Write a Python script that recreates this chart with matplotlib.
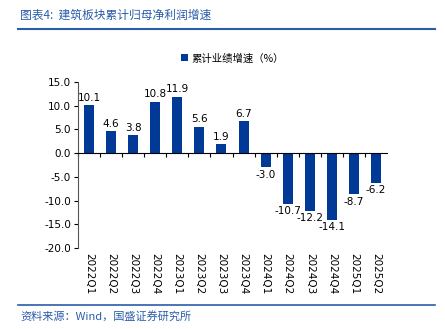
import matplotlib.pyplot as plt
import numpy as np

plt.rcParams['font.family'] = ['Noto Sans CJK SC', 'DejaVu Sans']

quarters = ['2022Q1', '2022Q2', '2022Q3', '2022Q4', '2023Q1', '2023Q2', '2023Q3',
            '2023Q4', '2024Q1', '2024Q2', '2024Q3', '2024Q4', '2025Q1', '2025Q2']
growth = [10.1, 4.6, 3.8, 10.8, 11.9, 5.6, 1.9, 6.7, -3.0, -10.7, -12.2, -14.1, -8.7, -6.2]

bar_color = '#003a96'
line_color = '#2a5caa'

fig = plt.figure(figsize=(4.45, 3.29), dpi=100)
ax = fig.add_axes([0.175, 0.246, 0.695, 0.505])

x = np.arange(len(quarters))
ax.bar(x, growth, width=0.45, color=bar_color, label='累计业绩增速（%）')

for xi, v in zip(x, growth):
    if v >= 0:
        ax.text(xi, v + 0.5, f'{v:.1f}', ha='center', va='bottom', fontsize=7.5,
                family='DejaVu Sans')
    else:
        ax.text(xi, v - 0.5, f'{v:.1f}', ha='center', va='top', fontsize=7.5,
                family='DejaVu Sans')

ax.set_ylim(-20, 15)
ax.set_yticks(np.arange(-20, 16, 5))
ax.set_yticklabels([f'{t:.1f}' for t in np.arange(-20, 16, 5)], fontsize=7.5,
                   family='DejaVu Sans')
ax.set_xlim(-0.5, len(quarters) - 0.5)

ax.spines['top'].set_visible(False)
ax.spines['right'].set_visible(False)
ax.spines['bottom'].set_position(('data', 0))
ax.spines['bottom'].set_color('black')
ax.spines['left'].set_color('#555555')
ax.tick_params(axis='y', length=3, width=0.8, colors='black', pad=2)
ax.set_xticks(x - 0.5, minor=False)
ax.set_xticklabels([])
ax.tick_params(axis='x', length=3, width=0.8, direction='out')

for xi, q in zip(x, quarters):
    ax.text(xi, -21.0, q, rotation=270, ha='center', va='top', fontsize=7.5,
            family='DejaVu Sans')

ax.legend(loc='upper center', bbox_to_anchor=(0.5, 1.23), frameon=False,
          fontsize=7.5, handlelength=0.7, handleheight=0.7, handletextpad=0.3)

fig.text(0.045, 0.955, '图表4:  建筑板块累计归母净利润增速', color=line_color,
         fontsize=8.5, style='italic', va='center')
fig.add_artist(plt.Line2D([0.04, 0.978], [0.911, 0.911], color=line_color, lw=1.5))
fig.add_artist(plt.Line2D([0.04, 0.978], [0.073, 0.073], color=line_color, lw=1.2))
fig.text(0.045, 0.04, '资料来源：Wind，国盛证券研究所', color=line_color,
         fontsize=8, style='italic', va='center')

fig.savefig('out.png', dpi=100)
